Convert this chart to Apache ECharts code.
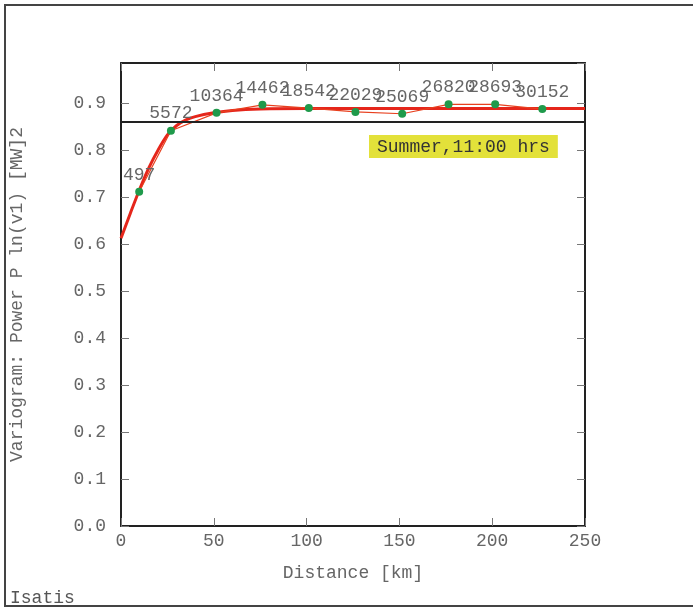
<!DOCTYPE html>
<html>
<head>
<meta charset="utf-8">
<script src="https://cdn.jsdelivr.net/npm/echarts@6/dist/echarts.min.js"></script>
<style>
  html, body { margin: 0; padding: 0; background: #fff; }
  #chart { width: 693px; height: 608px; }
</style>
</head>
<body>
<div id="chart"></div>
<script>
// experimental variogram (lag distance in km, gamma, number of pairs)
const lagDist = [9.8, 26.9, 51.5, 76.2, 101.2, 126.3, 151.5, 176.5, 201.6, 227]
const gammaExp = [0.711, 0.841, 0.879, 0.896, 0.889, 0.881, 0.877, 0.897, 0.897, 0.887]
const pairCounts = ['497', '5572', '10364', '14462', '18542', '22029', '25069', '26820', '28693', '30152']

// fitted model
const modelDist = [0, 5, 10, 15, 20, 25, 30, 35, 40, 50, 60, 75, 100, 150, 200, 250]
const modelGamma = [0.612, 0.665, 0.716, 0.762, 0.800, 0.832, 0.852, 0.864, 0.871, 0.879, 0.884, 0.887, 0.888, 0.888, 0.888, 0.888]

const sill = 0.862
const xTicks = [0, 50, 100, 150, 200, 250]
const caption = 'Summer,11:00 hrs'

const font = 'Liberation Mono'
const grey = '#666'

const chart = echarts.init(document.getElementById('chart'))

const expData = lagDist.map((d, i) => [d, gammaExp[i]])
const modelData = modelDist.map((d, i) => [d, modelGamma[i]])

// fresh objects per axis so echarts doesn't share them
function frameLine() {
  return { show: true, onZero: false, lineStyle: { color: '#222', width: 2 } }
}
function innerTick() {
  return { show: true, inside: true, length: 8, lineStyle: { color: '#777' } }
}

const option = {
  animation: false,
  backgroundColor: '#fff',
  grid: { left: 120, top: 63, right: 108, bottom: 82 },
  xAxis: [
    {
      type: 'value',
      position: 'bottom',
      min: 0,
      max: 250,
      interval: 50,
      name: 'Distance [km]',
      nameLocation: 'middle',
      nameGap: 38,
      nameTextStyle: { fontFamily: font, fontSize: 18, color: grey },
      axisLine: frameLine(),
      axisTick: innerTick(),
      axisLabel: {
        fontFamily: font, fontSize: 18, color: grey, margin: 6,
        formatter: v => xTicks.includes(v) ? String(v) : ''
      },
      splitLine: { show: false }
    },
    {
      type: 'value',
      position: 'top',
      min: 0,
      max: 250,
      interval: 50,
      axisLine: frameLine(),
      axisTick: innerTick(),
      axisLabel: { show: false },
      splitLine: { show: false }
    }
  ],
  yAxis: [
    {
      type: 'value',
      position: 'left',
      min: 0,
      max: 0.985,
      interval: 0.1,
      name: 'Variogram: Power P ln(v1) [MW]2',
      nameLocation: 'middle',
      nameGap: 95,
      nameTextStyle: { fontFamily: font, fontSize: 18, color: grey },
      axisLine: frameLine(),
      axisTick: innerTick(),
      axisLabel: {
        fontFamily: font, fontSize: 18, color: grey, margin: 15,
        showMaxLabel: false,
        formatter: v => v.toFixed(1)
      },
      splitLine: { show: false }
    },
    {
      type: 'value',
      position: 'right',
      min: 0,
      max: 0.985,
      interval: 0.1,
      axisLine: frameLine(),
      axisTick: innerTick(),
      axisLabel: { show: false },
      splitLine: { show: false }
    }
  ],
  series: [
    {
      name: 'model',
      type: 'line',
      data: modelData,
      smooth: 0.3,
      showSymbol: false,
      lineStyle: { color: '#e5261b', width: 3 },
      markLine: {
        silent: true,
        symbol: 'none',
        label: { show: false },
        lineStyle: { color: '#222', width: 2, type: 'solid' },
        data: [{ yAxis: sill }]
      },
      z: 3
    },
    {
      name: 'experimental',
      type: 'line',
      data: expData,
      symbol: 'circle',
      symbolSize: 8,
      itemStyle: { color: '#1f9a4b' },
      lineStyle: { color: '#e8401f', width: 1.2 },
      label: {
        show: true,
        position: 'top',
        distance: 4,
        fontFamily: font,
        fontSize: 18,
        color: grey,
        formatter: p => pairCounts[p.dataIndex]
      },
      z: 4
    }
  ],
  graphic: [
    {
      type: 'rect',
      shape: { x: 5, y: 5, width: 720, height: 601 },
      style: { fill: 'none', stroke: '#444', lineWidth: 2 },
      silent: true
    },
    {
      type: 'text',
      x: 369,
      y: 135,
      style: {
        text: caption,
        font: '18px "Liberation Mono"',
        fill: '#333',
        backgroundColor: '#e3e13a',
        padding: [3, 8, 2, 8]
      }
    },
    {
      type: 'text',
      x: 10,
      y: 589,
      style: {
        text: 'Isatis',
        font: '18px "Liberation Mono"',
        fill: '#555'
      }
    }
  ]
}

chart.setOption(option)
</script>
</body>
</html>
